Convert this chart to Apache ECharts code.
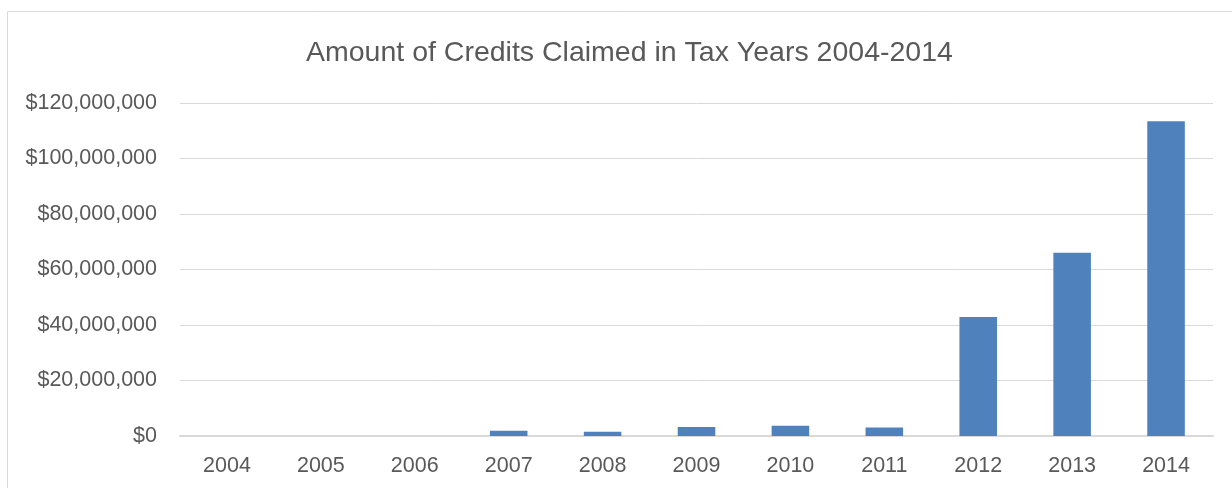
<!DOCTYPE html>
<html>
<head>
<meta charset="utf-8">
<script src="https://cdn.jsdelivr.net/npm/echarts@6/dist/echarts.min.js"></script>
<style>
  html, body { margin: 0; padding: 0; background: #fff; }
  #chart { width: 1232px; height: 488px; }
</style>
</head>
<body>
<div id="chart"></div>
<script>
// data
const years = ["2004", "2005", "2006", "2007", "2008", "2009", "2010", "2011", "2012", "2013", "2014"];
const credits = [0, 0, 0, 1900000, 1550000, 3250000, 3700000, 3100000, 42900000, 66000000, 113400000];
const yTicks = [0, 20000000, 40000000, 60000000, 80000000, 100000000, 120000000];

const myChart = echarts.init(document.getElementById("chart"));

const fmt = (v) => "$" + v.toLocaleString("en-US");

const option = {
  animation: false,
  textStyle: { fontFamily: "Liberation Sans" },
  title: {
    text: "Amount of Credits Claimed in Tax Years 2004-2014",
    left: 301,
    top: 34,
    textStyle: { color: "#595959", fontSize: 28.5, fontWeight: "normal", fontFamily: "Liberation Sans" }
  },
  graphic: [
    {
      type: "rect",
      shape: { x: 7.5, y: 11.5, width: 1400, height: 800 },
      style: { fill: "none", stroke: "#d9d9d9", lineWidth: 1 },
      silent: true
    }
  ],
  grid: { left: 180, right: 19, top: 103, bottom: 52 },
  xAxis: {
    type: "category",
    data: years,
    axisTick: { show: false },
    axisLine: { lineStyle: { color: "#d9d9d9", width: 2 } },
    axisLabel: { color: "#595959", fontSize: 21.5, margin: 19 }
  },
  yAxis: {
    type: "value",
    min: yTicks[0],
    max: yTicks[yTicks.length - 1],
    interval: 20000000,
    axisLine: { show: false },
    axisTick: { show: false },
    splitLine: { lineStyle: { color: "#d9d9d9", width: 1 } },
    axisLabel: { color: "#595959", fontSize: 21.5, margin: 23, formatter: fmt }
  },
  series: [
    {
      type: "bar",
      data: credits,
      barCategoryGap: "60%",
      itemStyle: { color: "#4F81BD" }
    }
  ]
};

myChart.setOption(option);
</script>
</body>
</html>
